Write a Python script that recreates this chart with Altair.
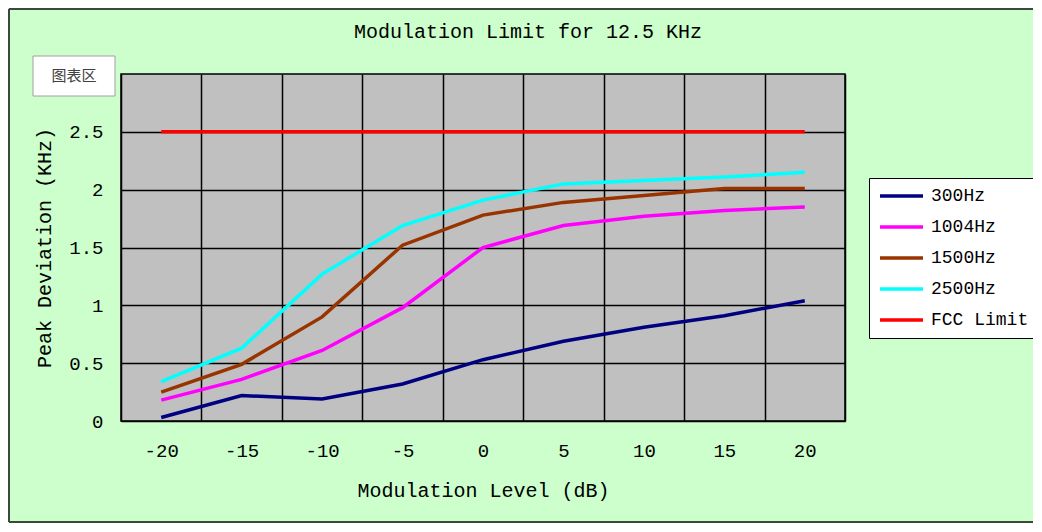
import altair as alt
import pandas as pd

levels = [-20, -15, -10, -5, 0, 5, 10, 15, 20]
s300 = [0.03, 0.22, 0.19, 0.32, 0.53, 0.69, 0.81, 0.91, 1.04]
s1004 = [0.18, 0.36, 0.61, 0.98, 1.50, 1.69, 1.77, 1.82, 1.85]
s1500 = [0.25, 0.49, 0.90, 1.52, 1.78, 1.89, 1.95, 2.01, 2.01]
s2500 = [0.34, 0.63, 1.27, 1.69, 1.91, 2.05, 2.08, 2.11, 2.15]
fcc = [2.5, 2.5, 2.5, 2.5, 2.5, 2.5, 2.5, 2.5, 2.5]

series_names = ["300Hz", "1004Hz", "1500Hz", "2500Hz", "FCC Limit"]
series_colors = ["#000080", "#FF00FF", "#993300", "#00FFFF", "#FF0000"]
y_ticks = [0, 0.5, 1, 1.5, 2, 2.5]

rows = []
for name, vals in zip(series_names, [s300, s1004, s1500, s2500, fcc]):
    for lv, v in zip(levels, vals):
        rows.append({"level": lv, "value": v, "series": name})
df = pd.DataFrame(rows)

FONT = "Liberation Mono"

lines = alt.Chart(df).mark_line(strokeWidth=3.5).encode(
    x=alt.X(
        "level:O",
        bandPosition=0.5,
        scale=alt.Scale(type="band", paddingInner=0, paddingOuter=0),
        axis=alt.Axis(
            title="Modulation Level (dB)",
            labelAngle=0,
            tickBand="extent",
            ticks=False,
            domain=False,
            grid=True,
            gridColor="#000000",
            gridWidth=1.5,
            labelPadding=20,
            titlePadding=20,
        ),
    ),
    y=alt.Y(
        "value:Q",
        scale=alt.Scale(domain=[0, 3], nice=False, zero=True),
        axis=alt.Axis(
            title="Peak Deviation (KHz)",
            values=y_ticks,
            format=".1~f",
            ticks=False,
            domain=False,
            grid=True,
            gridColor="#000000",
            gridWidth=1.5,
            labelPadding=18,
            titlePadding=14,
        ),
    ),
    color=alt.Color(
        "series:N",
        scale=alt.Scale(domain=series_names, range=series_colors),
        legend=alt.Legend(
            title=None,
            orient="none",
            legendX=748,
            legendY=104,
            fillColor="#FFFFFF",
            strokeColor="#000000",
            padding=9,
            symbolType="stroke",
            symbolSize=1849,
            symbolStrokeWidth=3.5,
            labelFont=FONT,
            labelFontSize=18,
            labelColor="#000000",
            labelOffset=6,
            rowPadding=13,
            clipHeight=18,
        ),
    ),
    order=alt.Order("series:N"),
)

tip_df = pd.DataFrame({"t": ["图表区"]})
edge_left = alt.Chart(tip_df).mark_rule(stroke="#3A4A3A", strokeWidth=2).encode(
    x=alt.value(-112), x2=alt.value(-112), y=alt.value(-65), y2=alt.value(448)
)
edge_top = alt.Chart(tip_df).mark_rule(stroke="#3A4A3A", strokeWidth=2).encode(
    x=alt.value(-112), x2=alt.value(960), y=alt.value(-65), y2=alt.value(-65)
)
edge_bottom = alt.Chart(tip_df).mark_rule(stroke="#3A4A3A", strokeWidth=2).encode(
    x=alt.value(-112), x2=alt.value(960), y=alt.value(448), y2=alt.value(448)
)
tip_box = alt.Chart(tip_df).mark_rect(fill="#FFFFFF", stroke="#A0A0A0", strokeWidth=1).encode(
    x=alt.value(-88), x2=alt.value(-6), y=alt.value(-18), y2=alt.value(22)
)
tip_text = alt.Chart(tip_df).mark_text(
    font="Noto Sans CJK SC", fontSize=15, color="#404040", align="center", baseline="middle"
).encode(x=alt.value(-47), y=alt.value(2), text="t:N")

chart = alt.layer(lines, tip_box, tip_text, edge_left, edge_top, edge_bottom).properties(
    width=724,
    height=347,
    title=alt.TitleParams(
        "Modulation Limit for 12.5 KHz",
        font=FONT,
        fontSize=20,
        fontWeight="normal",
        color="#000000",
        anchor="middle",
        dx=45,
        dy=34,
        offset=0,
    ),
    autosize=alt.AutoSizeParams(type="none"),
    padding={"left": 113, "top": 66, "right": 188, "bottom": 102},
).configure(
    background="#CCFFCC",
).configure_view(
    fill="#C0C0C0", stroke="#000000", strokeWidth=1.5
).configure_axis(
    labelFont=FONT,
    labelFontSize=19,
    labelColor="#000000",
    titleFont=FONT,
    titleFontSize=20,
    titleFontWeight="normal",
    titleColor="#000000",
)

chart.save("out.html", embed_options={"renderer": "svg", "actions": False})
